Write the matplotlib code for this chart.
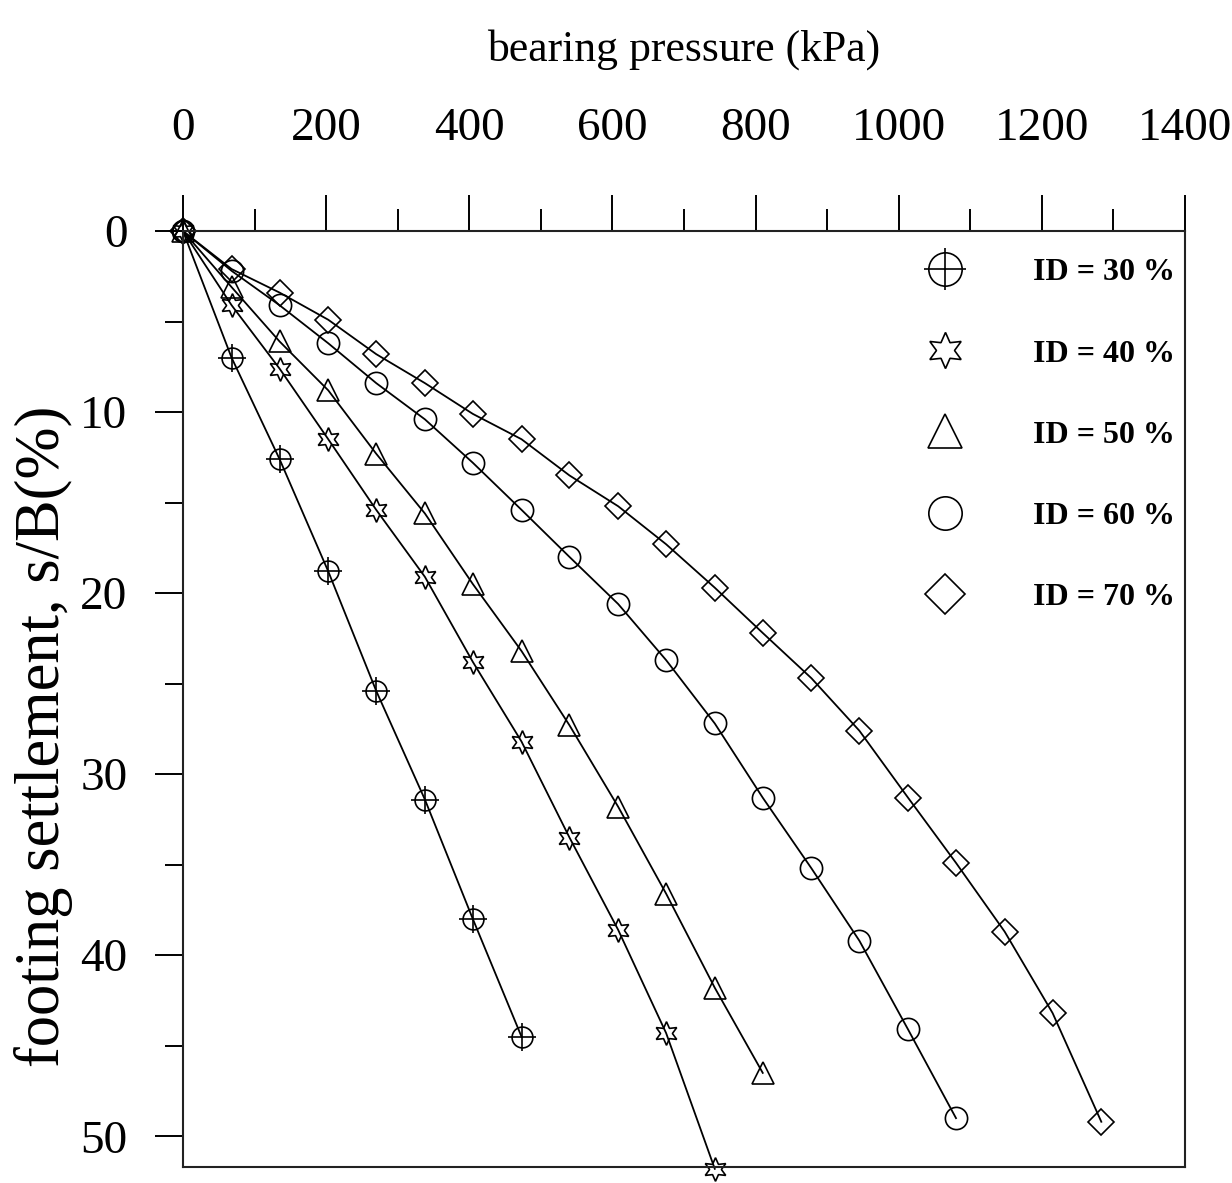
import numpy as np
import matplotlib.pyplot as plt
from matplotlib.lines import Line2D
from matplotlib.ticker import MultipleLocator

plt.rcParams['font.family'] = ['Liberation Serif', 'DejaVu Serif']

# bearing pressure (kPa) at each load step
p = [0, 68, 135, 203, 270, 338, 405, 473, 540, 608, 675, 743, 810,
     878, 945, 1013, 1080, 1148, 1215, 1283]

# settlement s/B (%) for each relative density
s30 = [0, 7.0, 12.6, 18.8, 25.4, 31.4, 38.0, 44.5]
s40 = [0, 4.1, 7.6, 11.5, 15.4, 19.1, 23.8, 28.2, 33.5, 38.6, 44.3, 51.8]
s50 = [0, 3.1, 6.1, 8.8, 12.3, 15.6, 19.5, 23.2, 27.3, 31.8, 36.6, 41.8, 46.5]
s60 = [0, 2.2, 4.1, 6.2, 8.4, 10.4, 12.8, 15.4, 18.0, 20.6, 23.7, 27.2,
       31.3, 35.2, 39.2, 44.1, 49.0]
s70 = [0, 2.1, 3.4, 4.9, 6.8, 8.4, 10.1, 11.5, 13.5, 15.2, 17.3, 19.7,
       22.2, 24.7, 27.6, 31.3, 34.9, 38.7, 43.2, 49.2]

labels = ['ID = 30 %', 'ID = 40 %', 'ID = 50 %', 'ID = 60 %', 'ID = 70 %']

fig = plt.figure(figsize=(12.32, 11.83), dpi=100)
ax = fig.add_axes([0.1485, 0.0135, 0.8134, 0.7912])

lw = 1.3
mew = 1.2
kw = dict(color='black', lw=lw, mfc='none', mec='black', mew=mew, clip_on=False)

ax.plot(p[:len(s30)], s30, marker='o', ms=15, **kw)
ax.plot(p[:len(s30)], s30, marker='+', ms=20, ls='none', mec='black', mew=mew, clip_on=False)
ax.plot(p[:len(s40)], s40, marker=(6, 1, 0), ms=17, **kw)
ax.plot(p[:len(s50)], s50, marker='^', ms=16, **kw)
ax.plot(p[:len(s60)], s60, marker='o', ms=16, **kw)
ax.plot(p[:len(s70)], s70, marker='D', ms=13, **kw)

ax.set_xlim(0, 1400)
ax.set_ylim(51.7, 0)

ax.xaxis.tick_top()
ax.xaxis.set_label_position('top')
ax.xaxis.set_major_locator(MultipleLocator(200))
ax.xaxis.set_minor_locator(MultipleLocator(100))
ax.yaxis.set_major_locator(MultipleLocator(10))
ax.yaxis.set_minor_locator(MultipleLocator(5))
ax.tick_params(axis='x', which='major', direction='out', length=26, width=1.4,
               labelsize=34, pad=32)
ax.tick_params(axis='x', which='minor', direction='out', length=16, width=1.4)
ax.tick_params(axis='y', which='major', direction='out', length=20, width=1.4,
               labelsize=34, pad=20)
ax.tick_params(axis='y', which='minor', direction='out', length=13, width=1.4)
ax.tick_params(axis='x', which='both', top=True, bottom=False)
ax.tick_params(axis='y', which='both', left=True, right=False)

for sp in ax.spines.values():
    sp.set_linewidth(1.5)
    sp.set_color('#222222')

ax.set_xlabel('bearing pressure (kPa)', fontsize=31.5, labelpad=34)
ax.set_ylabel('footing settlement, s/B(%)', fontsize=45)
ax.yaxis.set_label_coords(-0.11, 0.46)

# legend (markers only)
lk = dict(ls='none', mfc='none', mec='black', mew=mew)
h30 = (Line2D([], [], marker='o', ms=24, **lk), Line2D([], [], marker='+', ms=30, **lk))
h40 = Line2D([], [], marker=(6, 1, 0), ms=26, **lk)
h50 = Line2D([], [], marker='^', ms=24, **lk)
h60 = Line2D([], [], marker='o', ms=24, **lk)
h70 = Line2D([], [], marker='D', ms=20, **lk)
ax.legend([h30, h40, h50, h60, h70], labels, loc='upper right',
          bbox_to_anchor=(1.012, 0.995), frameon=False,
          prop={'family': 'Liberation Serif', 'weight': 'bold', 'size': 23},
          handletextpad=2.0, labelspacing=1.62, handlelength=1.5, borderaxespad=0.3)

fig.savefig('out.png', dpi=100)
